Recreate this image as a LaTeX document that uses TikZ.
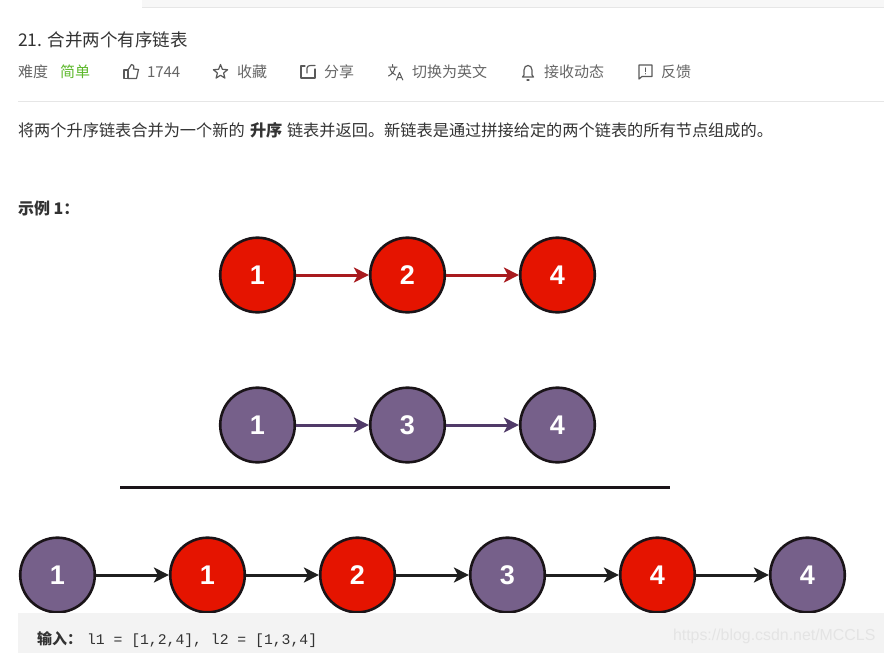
\documentclass[tikz,border=0pt]{standalone}
\usepackage{fontspec}
\setmainfont{Liberation Sans}
\setmonofont{Liberation Mono}
\newfontfamily\cjk{Noto Sans CJK SC}
\usetikzlibrary{arrows.meta}
\definecolor{redfill}{HTML}{E51400}
\definecolor{redline}{HTML}{A81A1E}
\definecolor{purfill}{HTML}{76608A}
\definecolor{purline}{HTML}{503A68}
\definecolor{ringcol}{HTML}{1A1418}
\definecolor{txtdark}{HTML}{333333}
\definecolor{txtgrey}{HTML}{666666}
\definecolor{icongrey}{HTML}{5A5A5A}
\definecolor{easygreen}{HTML}{5CB82A}
\definecolor{codebg}{HTML}{F3F3F3}
\definecolor{barbg}{HTML}{F7F7F7}
\definecolor{rulecol}{HTML}{E6E6E6}
\definecolor{wmark}{HTML}{E4E4E4}
\tikzset{
  listnode/.style={circle,draw=ringcol,line width=2.6pt,minimum size=74.6pt,inner sep=0pt,text=white,
    font=\fontsize{27}{27}\selectfont\bfseries},
  rednode/.style={listnode,fill=redfill},
  purnode/.style={listnode,fill=purfill},
  link/.style={line width=3pt,-{Stealth[length=15pt,width=15pt,inset=4pt]}},
  redlink/.style={link,draw=redline},
  purlink/.style={link,draw=purline},
  blacklink/.style={link,draw=black!88},
  txt/.style={anchor=base west,inner sep=0pt,outer sep=0pt},
  meta/.style={txt,text=txtgrey,font=\cjk\fontsize{15}{15}\selectfont},
  body/.style={txt,text=txtdark,font=\cjk\fontsize{16.2}{16}\selectfont},
  icon/.style={draw=icongrey,line width=1.2pt,line join=round,line cap=round},
}
\begin{document}
\begin{tikzpicture}[x=1pt,y=-1pt]
\useasboundingbox (0,0) rectangle (884,653);
\fill[white] (0,0) rectangle (884,653);
% top bar
\fill[barbg] (142,0) rectangle (884,7);
\draw[rulecol,line width=0.8pt] (142,7.5) -- (884,7.5);
% heading
\node[txt,text=txtdark,font=\cjk\fontsize{17.5}{18}\selectfont] (title) at (18,46) {21. 合并两个有序链表};
\node[meta] (diff) at (18,77) {难度};
\node[meta,text=easygreen] (easy) at (60,77) {简单};
\node[meta] (likes) at (147,77) {1744};
\node[meta] (fav) at (237,77) {收藏};
\node[meta] (share) at (324,77) {分享};
\node[meta] (lang) at (412,77) {切换为英文};
\node[meta] (sub) at (544,77) {接收动态};
\node[meta] (fb) at (661,77) {反馈};
% icons
\draw[icon] (124,70) rectangle (128,78.5);
\draw[icon] (128,70) -- (131.5,64.5) .. controls (133.5,64) and (134.2,66) .. (133.5,69) -- (138.5,69.5) -- (136.5,78.5) -- (128,78.5);
\draw[icon] (220.5,64.5) -- (222.4,69.3) -- (227.6,69.7) -- (223.6,73) -- (224.9,78.1) -- (220.5,75.3) -- (216.1,78.1) -- (217.4,73) -- (213.4,69.7) -- (218.6,69.3) -- cycle;
\draw[icon] (305,66) -- (301,66) -- (301,78) -- (315,78) -- (315,69);
\draw[icon] (307,73) -- (307,68) .. controls (307,66) and (309,65.5) .. (311,65.5) -- (315,65.5);
\draw[icon,line width=1pt] (388.5,67) -- (397,67) (392.5,64.5) -- (392.5,67) (395,67.5) .. controls (394,72) and (392,74) .. (388.5,76) (390,68.5) .. controls (391,72) and (393,74) .. (395.5,75);
\draw[icon,line width=1pt] (396.5,80) -- (399.5,72.5) -- (402.8,80) (397.6,77.5) -- (401.6,77.5);
\draw[icon] (522.5,77) -- (524,75) -- (524,70) .. controls (524,64) and (532,64) .. (532,70) -- (532,75) -- (533.5,77) -- cycle;
\draw[icon] (527,80) -- (529,80);
\draw[icon] (639,65) -- (652,65) -- (652,76.5) -- (642,76.5) -- (639,79) -- cycle;
\draw[icon] (645.5,68) -- (645.5,71.5) (645.5,73.6) -- (645.5,73.8);
\draw[rulecol,line width=1pt] (18,101.5) -- (884,101.5);
% paragraph
\node[body] (p1) at (18,136) {将两个升序链表合并为一个新的};
\node[body,font=\cjk\bfseries\fontsize{16.2}{16}\selectfont] (p2) at (250,136) {升序};
\node[body] (p3) at (287,136) {链表并返回。新链表是通过拼接给定的两个链表的所有节点组成的。};
\node[body,font=\cjk\bfseries\fontsize{16}{16}\selectfont] (ex) at (18,214.5) {示例 1：};
% list 1
\node[rednode] (a1) at (257.5,275) {1};
\node[rednode] (a2) at (407.5,275) {2};
\node[rednode] (a3) at (557.5,275) {4};
\draw[redlink] (a1) -- (a2);
\draw[redlink] (a2) -- (a3);
% list 2
\node[purnode] (b1) at (257.5,425) {1};
\node[purnode] (b2) at (407.5,425) {3};
\node[purnode] (b3) at (557.5,425) {4};
\draw[purlink] (b1) -- (b2);
\draw[purlink] (b2) -- (b3);
% separator
\coordinate (sepl) at (120,487.5);
\coordinate (sepr) at (670,487.5);
\draw[ringcol,line width=2.2pt] (sepl) -- (sepr);
% merged
\node[purnode] (c1) at (57.5,575) {1};
\node[rednode] (c2) at (207.5,575) {1};
\node[rednode] (c3) at (357.5,575) {2};
\node[purnode] (c4) at (507.5,575) {3};
\node[rednode] (c5) at (657.5,575) {4};
\node[purnode] (c6) at (807.5,575) {4};
\draw[blacklink] (c1) -- (c2);
\draw[blacklink] (c2) -- (c3);
\draw[blacklink] (c3) -- (c4);
\draw[blacklink] (c4) -- (c5);
\draw[blacklink] (c5) -- (c6);
% code block
\fill[codebg] (18,613) rectangle (884,653);
\node[body,font=\cjk\bfseries\fontsize{15}{15}\selectfont] (inp) at (37,644) {输入：};
\node[txt,text=txtdark,font=\ttfamily\fontsize{14.75}{15}\selectfont] (code) at (87,644) {l1 = [1,2,4], l2 = [1,3,4]};
\node[txt,text=wmark,font=\fontsize{15.9}{16}\selectfont] (wm) at (673,640.5) {https://blog.csdn.net/MCCLS};
\end{tikzpicture}
\end{document}
